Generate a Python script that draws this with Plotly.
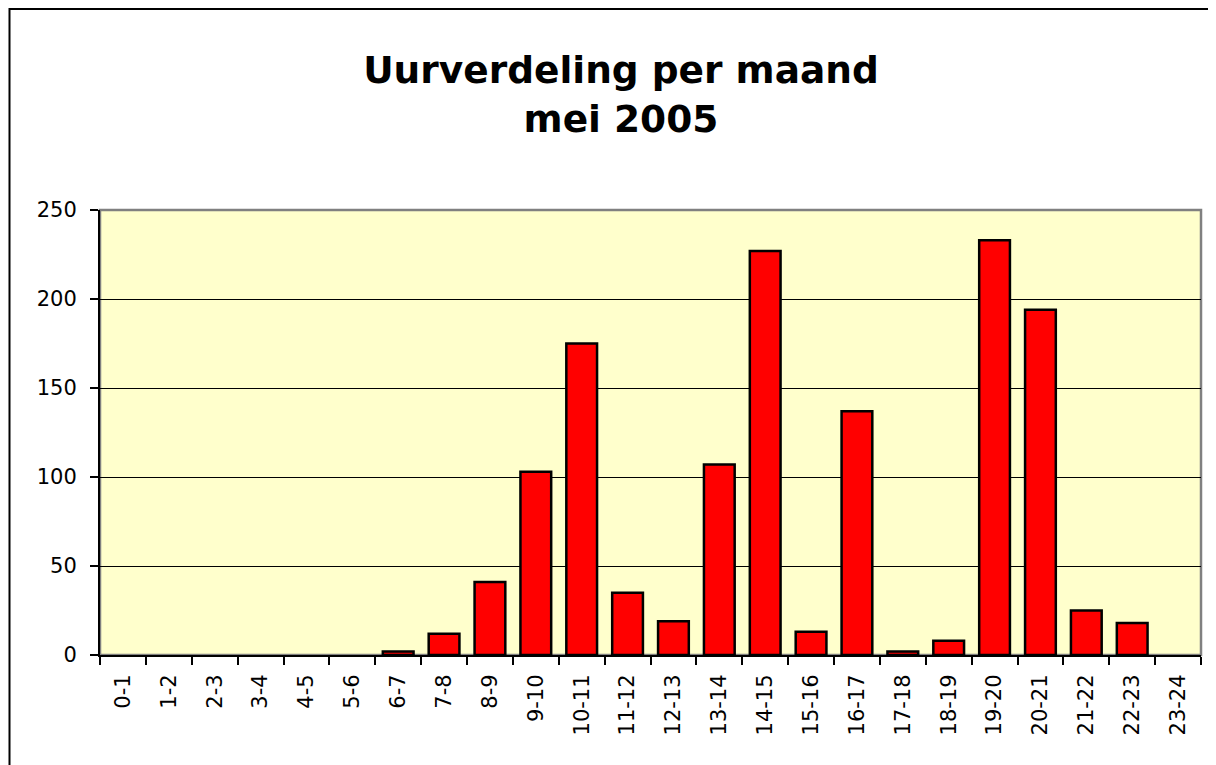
import plotly.graph_objects as go

categories = ["0-1", "1-2", "2-3", "3-4", "4-5", "5-6", "6-7", "7-8", "8-9", "9-10",
              "10-11", "11-12", "12-13", "13-14", "14-15", "15-16", "16-17", "17-18",
              "18-19", "19-20", "20-21", "21-22", "22-23", "23-24"]
values = [0, 0, 0, 0, 0, 0, 2, 12, 41, 103, 175, 35, 19, 107, 227, 13, 137, 2, 8,
          233, 194, 25, 18, 0]
y_ticks = [0, 50, 100, 150, 200, 250]

# page body has an 8px margin; figure sized to fill the rest of the window
W, H = 1208, 757
L, R, T, B = 92, 15, 202, 110
pw, ph = W - L - R, H - T - B

line_widths = [2.5 if v > 0 else 0 for v in values]

fig = go.Figure(go.Bar(
    x=categories, y=values,
    marker=dict(color="#FF0000", line=dict(color="#000000", width=line_widths)),
))

tick_font = dict(family="DejaVu Sans", size=21, color="#000000")

fig.update_layout(
    width=W, height=H,
    margin=dict(l=L, r=R, t=T, b=B, pad=0),
    paper_bgcolor="#FFFFFF",
    plot_bgcolor="#FFFFCC",
    bargap=0.33,
    showlegend=False,
    title=dict(
        text="<b>Uurverdeling per maand<br>mei 2005</b>",
        font=dict(family="DejaVu Sans", size=37.5, color="#000000"),
        x=613 / W, xanchor="center", xref="container",
        y=1 - 75 / H, yanchor="top", yref="container",
    ),
    xaxis=dict(
        type="category", range=[-0.5, 23.5],
        tickangle=-90, tickfont=tick_font,
        ticks="outside", ticklen=8, tickwidth=1.5, tickcolor="#000000",
        tickson="boundaries",
        showline=True, linecolor="#000000", linewidth=2,
        showgrid=False, zeroline=False,
        ticklabelstandoff=9,
    ),
    yaxis=dict(
        range=[0, 250], tickvals=y_ticks, tickfont=tick_font,
        ticks="outside", ticklen=8, tickwidth=1.5, tickcolor="#000000",
        showline=True, linecolor="#000000", linewidth=2,
        showgrid=True, gridcolor="#000000", gridwidth=1,
        zeroline=False,
        ticklabelstandoff=9,
    ),
    shapes=[
        # plot-area border (gray top/right)
        dict(type="rect", xref="paper", yref="paper", x0=0, x1=1, y0=0, y1=1,
             line=dict(color="#808080", width=2.5), layer="below"),
        # outer chart frame
        dict(type="rect", xref="paper", yref="paper",
             x0=(1.5 - L) / pw, x1=2, y0=-2, y1=(H - B - 1) / ph,
             line=dict(color="#000000", width=2), layer="above"),
    ],
)

fig.write_html("out.html")
